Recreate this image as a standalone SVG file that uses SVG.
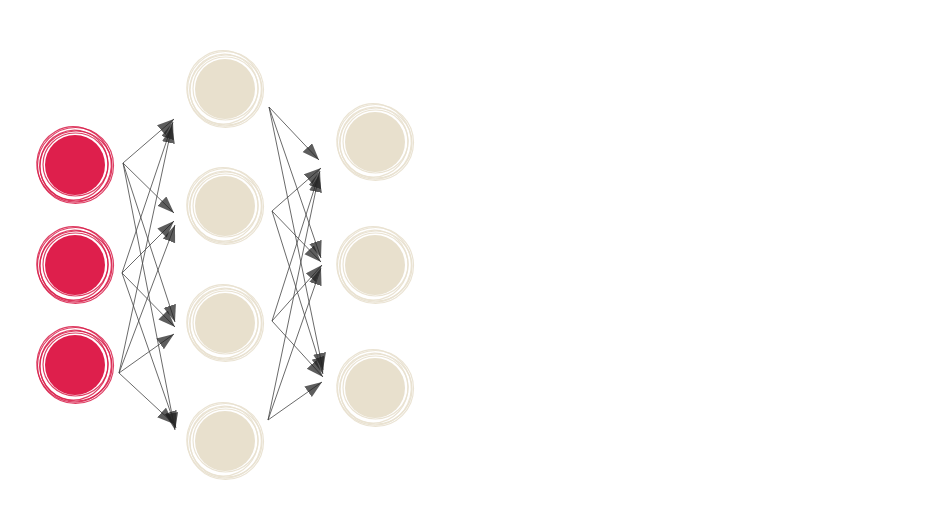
<svg xmlns="http://www.w3.org/2000/svg" width="941" height="510" viewBox="0 0 941 510">
<style>
.in .core{fill:#de1f4c}
.in .ring{fill:none;stroke:#d81e4a;stroke-width:1.2;opacity:0.85}
.hid .core{fill:#e8e0cd}
.hid .ring{fill:none;stroke:#e9e2d1;stroke-width:1.2;opacity:0.95}
.e{stroke:#444;stroke-width:0.8;fill:none;marker-end:url(#ah)}
</style>
<defs>
<marker id="ah" markerWidth="19" markerHeight="14" refX="17" refY="6.5" orient="auto" markerUnits="userSpaceOnUse">
<path d="M0,0 L17,6.5 L0,13 z" fill="#1e1e1e" fill-opacity="0.72"/>
</marker>
</defs>
<rect width="941" height="510" fill="#fff"/>
<g id="connectors">
<path class="e" d="M123,163 L174,119"/>
<path class="e" d="M123,163 L174,213"/>
<path class="e" d="M123,163 L175,322"/>
<path class="e" d="M123,163 L175,430"/>
<path class="e" d="M122,273 L173,122"/>
<path class="e" d="M122,273 L174,221"/>
<path class="e" d="M122,273 L175,327"/>
<path class="e" d="M122,273 L176,428"/>
<path class="e" d="M119,373 L172,126"/>
<path class="e" d="M119,373 L175,225"/>
<path class="e" d="M119,373 L174,334"/>
<path class="e" d="M119,373 L174,424"/>
<path class="e" d="M269,107 L319,160"/>
<path class="e" d="M269,107 L321,258"/>
<path class="e" d="M269,107 L323,370"/>
<path class="e" d="M272,211 L321,168"/>
<path class="e" d="M272,211 L321,262"/>
<path class="e" d="M272,211 L323,374"/>
<path class="e" d="M272,321 L320,171"/>
<path class="e" d="M272,321 L322,265"/>
<path class="e" d="M272,321 L323,377"/>
<path class="e" d="M268,420 L319,175"/>
<path class="e" d="M268,420 L321,268"/>
<path class="e" d="M268,420 L322,382"/>
</g>
<g id="in1" class="in" transform="translate(75,165)"><circle class="core" r="30"/><ellipse class="ring" cx="0.5" cy="-0.5" rx="32.5" ry="31.5"/><ellipse class="ring" cx="-1" cy="0.5" rx="34" ry="35" transform="rotate(20)"/><ellipse class="ring" cx="1" cy="1" rx="36" ry="35"/><ellipse class="ring" cx="-0.5" cy="-1" rx="37" ry="37.8" transform="rotate(-30)"/><circle class="ring" cx="0.5" cy="0.5" r="38"/></g>
<g id="in2" class="in" transform="translate(75,265)"><circle class="core" r="30"/><ellipse class="ring" cx="0.5" cy="-0.5" rx="32.5" ry="31.5"/><ellipse class="ring" cx="-1" cy="0.5" rx="34" ry="35" transform="rotate(20)"/><ellipse class="ring" cx="1" cy="1" rx="36" ry="35"/><ellipse class="ring" cx="-0.5" cy="-1" rx="37" ry="37.8" transform="rotate(-30)"/><circle class="ring" cx="0.5" cy="0.5" r="38"/></g>
<g id="in3" class="in" transform="translate(75,365)"><circle class="core" r="30"/><ellipse class="ring" cx="0.5" cy="-0.5" rx="32.5" ry="31.5"/><ellipse class="ring" cx="-1" cy="0.5" rx="34" ry="35" transform="rotate(20)"/><ellipse class="ring" cx="1" cy="1" rx="36" ry="35"/><ellipse class="ring" cx="-0.5" cy="-1" rx="37" ry="37.8" transform="rotate(-30)"/><circle class="ring" cx="0.5" cy="0.5" r="38"/></g>
<g id="h1" class="hid" transform="translate(225,89)"><circle class="core" r="30"/><ellipse class="ring" cx="0.5" cy="-0.5" rx="32.5" ry="31.5"/><ellipse class="ring" cx="-1" cy="0.5" rx="34" ry="35" transform="rotate(20)"/><ellipse class="ring" cx="1" cy="1" rx="36" ry="35"/><ellipse class="ring" cx="-0.5" cy="-1" rx="37" ry="37.8" transform="rotate(-30)"/><circle class="ring" cx="0.5" cy="0.5" r="38"/></g>
<g id="h2" class="hid" transform="translate(225,206)"><circle class="core" r="30"/><ellipse class="ring" cx="0.5" cy="-0.5" rx="32.5" ry="31.5"/><ellipse class="ring" cx="-1" cy="0.5" rx="34" ry="35" transform="rotate(20)"/><ellipse class="ring" cx="1" cy="1" rx="36" ry="35"/><ellipse class="ring" cx="-0.5" cy="-1" rx="37" ry="37.8" transform="rotate(-30)"/><circle class="ring" cx="0.5" cy="0.5" r="38"/></g>
<g id="h3" class="hid" transform="translate(225,323)"><circle class="core" r="30"/><ellipse class="ring" cx="0.5" cy="-0.5" rx="32.5" ry="31.5"/><ellipse class="ring" cx="-1" cy="0.5" rx="34" ry="35" transform="rotate(20)"/><ellipse class="ring" cx="1" cy="1" rx="36" ry="35"/><ellipse class="ring" cx="-0.5" cy="-1" rx="37" ry="37.8" transform="rotate(-30)"/><circle class="ring" cx="0.5" cy="0.5" r="38"/></g>
<g id="h4" class="hid" transform="translate(225,441)"><circle class="core" r="30"/><ellipse class="ring" cx="0.5" cy="-0.5" rx="32.5" ry="31.5"/><ellipse class="ring" cx="-1" cy="0.5" rx="34" ry="35" transform="rotate(20)"/><ellipse class="ring" cx="1" cy="1" rx="36" ry="35"/><ellipse class="ring" cx="-0.5" cy="-1" rx="37" ry="37.8" transform="rotate(-30)"/><circle class="ring" cx="0.5" cy="0.5" r="38"/></g>
<g id="o1" class="hid" transform="translate(375,142)"><circle class="core" r="30"/><ellipse class="ring" cx="0.5" cy="-0.5" rx="32.5" ry="31.5"/><ellipse class="ring" cx="-1" cy="0.5" rx="34" ry="35" transform="rotate(20)"/><ellipse class="ring" cx="1" cy="1" rx="36" ry="35"/><ellipse class="ring" cx="-0.5" cy="-1" rx="37" ry="37.8" transform="rotate(-30)"/><circle class="ring" cx="0.5" cy="0.5" r="38"/></g>
<g id="o2" class="hid" transform="translate(375,265)"><circle class="core" r="30"/><ellipse class="ring" cx="0.5" cy="-0.5" rx="32.5" ry="31.5"/><ellipse class="ring" cx="-1" cy="0.5" rx="34" ry="35" transform="rotate(20)"/><ellipse class="ring" cx="1" cy="1" rx="36" ry="35"/><ellipse class="ring" cx="-0.5" cy="-1" rx="37" ry="37.8" transform="rotate(-30)"/><circle class="ring" cx="0.5" cy="0.5" r="38"/></g>
<g id="o3" class="hid" transform="translate(375,388)"><circle class="core" r="30"/><ellipse class="ring" cx="0.5" cy="-0.5" rx="32.5" ry="31.5"/><ellipse class="ring" cx="-1" cy="0.5" rx="34" ry="35" transform="rotate(20)"/><ellipse class="ring" cx="1" cy="1" rx="36" ry="35"/><ellipse class="ring" cx="-0.5" cy="-1" rx="37" ry="37.8" transform="rotate(-30)"/><circle class="ring" cx="0.5" cy="0.5" r="38"/></g>
</svg>
